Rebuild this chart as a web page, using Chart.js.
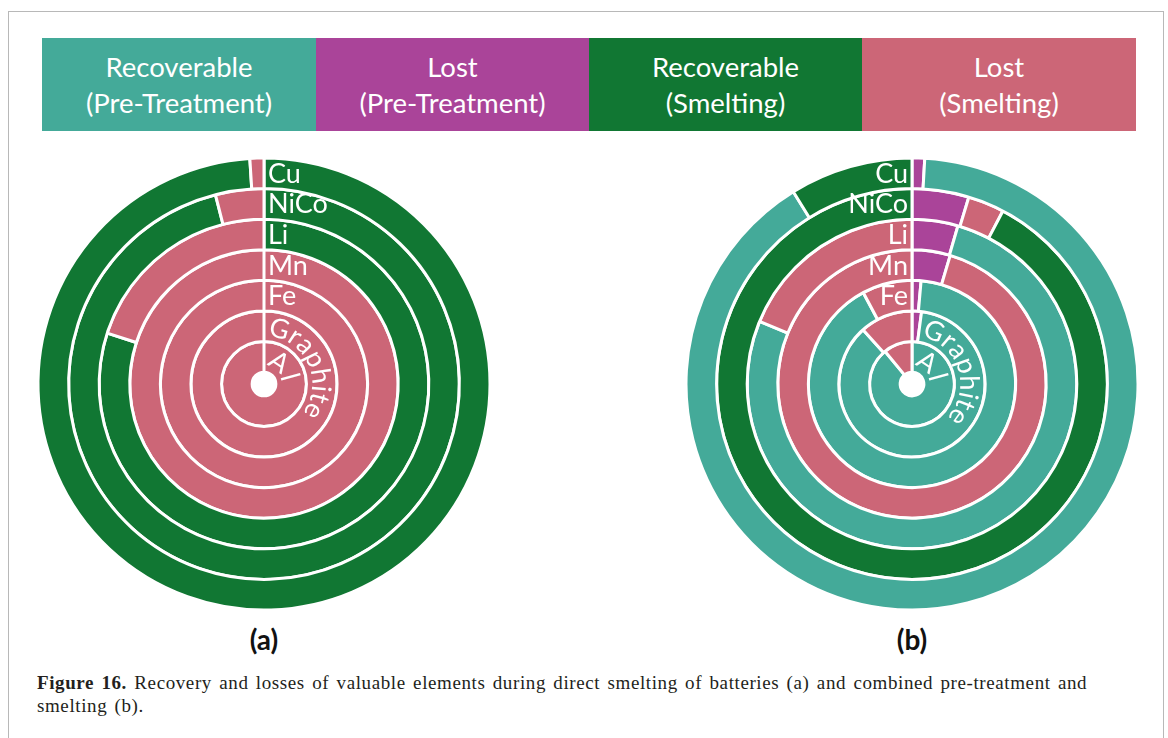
<!DOCTYPE html>
<html>
<head>
<meta charset="utf-8">
<script src="https://cdn.jsdelivr.net/npm/chart.js@4.4.0/dist/chart.umd.min.js"></script>
<style>
  body { margin: 0; width: 1168px; height: 738px; background: #fff; position: relative; overflow: hidden; }
  .frame { position: absolute; left: 8px; top: 11px; width: 1154px; height: 760px; border: 1px solid #b8b8b8; }
  .key { position: absolute; top: 38px; height: 93px; color: #fff; font-family: Lato, sans-serif; font-size: 27.5px;
         line-height: 36px; text-align: center; display: flex; align-items: center; justify-content: center; }
  canvas { position: absolute; top: 154px; }
  .tag { position: absolute; top: 622px; width: 100px; text-align: center; font-family: Lato, sans-serif;
         font-weight: bold; font-size: 28px; color: #111; }
  .caption { position: absolute; left: 37px; top: 671px; font-family: "Liberation Serif", serif; font-size: 19px;
             line-height: 23px; color: #231f20; letter-spacing: 0.6px; word-spacing: 2px; }
</style>
</head>
<body>
<div class="frame"></div>
<div id="keys"></div>
<canvas id="chartA" width="460" height="460" style="left:34px"></canvas>
<canvas id="chartB" width="460" height="460" style="left:682px"></canvas>
<div class="tag" style="left:214px">(a)</div>
<div class="tag" style="left:862px">(b)</div>
<div class="caption"><b>Figure 16.</b> Recovery and losses of valuable elements during direct smelting of batteries (a) and combined pre-treatment and<br>smelting (b).</div>
<script>
// rings, outer to inner
const rings = ["Cu", "NiCo", "Li", "Mn", "Fe", "Graphite", "Al"];
const categories = ["Recoverable\n(Pre-Treatment)", "Lost\n(Pre-Treatment)", "Recoverable\n(Smelting)", "Lost\n(Smelting)"];
const catColors = ["#44aa99", "#aa4499", "#117733", "#cc6677"];

// (a) direct smelting, % of each element
const smeltRecA = [99, 96, 80, 0, 0, 0, 0];
const smeltLostA = [1, 4, 20, 100, 100, 100, 100];

// (b) pre-treatment + smelting, % of each element
const ptLostB = [0.9, 4.7, 4.5, 4.6, 1.4, 2.1, 0];
const ptRecB = [90.3, 0, 76.7, 0, 90.8, 86.2, 89];
const smeltLostB = [0, 3.0, 18.8, 95.4, 7.8, 11.7, 11];
const smeltRecB = [8.8, 92.3, 0, 0, 0, 0, 0];

const curvedRings = ["Graphite", "Al"];
const labelFont = "27px Lato";
const capH = 19;

// legend boxes
const keyLeft = [42, 316, 589, 862, 1136];
const keys = document.getElementById("keys");
categories.forEach((c, i) => {
  const d = document.createElement("div");
  d.className = "key";
  d.style.left = keyLeft[i] + "px";
  d.style.width = (keyLeft[i + 1] - keyLeft[i]) + "px";
  d.style.background = catColors[i];
  d.innerHTML = c.replace("\n", "<br>");
  keys.appendChild(d);
});

const ringLabels = {
  id: "ringLabels",
  afterDatasetsDraw(chart, args, opts) {
    const ctx = chart.ctx;
    ctx.save();
    ctx.fillStyle = "#fff";
    ctx.font = labelFont;
    chart.data.datasets.forEach((ds, i) => {
      const arc = chart.getDatasetMeta(i).data[0];
      const { x, y, innerRadius, outerRadius } = arc.getProps(["x", "y", "innerRadius", "outerRadius"], true);
      const mid = (innerRadius + outerRadius) / 2;
      if (curvedRings.includes(ds.label)) {
        const r = mid - capH / 2;
        let a = opts.start[ds.label] * Math.PI / 180;
        ctx.textAlign = "center";
        for (const ch of ds.label) {
          const w = ctx.measureText(ch).width;
          ctx.save();
          ctx.translate(x, y);
          ctx.rotate(a + w / 2 / r);
          ctx.fillText(ch, 0, -r);
          ctx.restore();
          a += w / r;
        }
      } else {
        const left = opts.side === "left";
        ctx.textAlign = left ? "right" : "left";
        ctx.fillText(ds.label, x + (left ? -4 : 4), y - mid + capH / 2);
      }
    });
    ctx.restore();
  }
};

function ringChart(id, labels, colors, series, side, start) {
  return new Chart(document.getElementById(id), {
    type: "doughnut",
    data: {
      labels: labels,
      datasets: rings.map((name, i) => ({
        label: name,
        data: series.map(s => s[i]),
        backgroundColor: colors,
        borderColor: "#fff",
        borderWidth: 3
      }))
    },
    options: {
      responsive: false,
      animation: false,
      radius: 226,
      cutout: 12,
      plugins: {
        legend: { display: false },
        tooltip: { enabled: false },
        ringLabels: { side: side, start: start }
      }
    },
    plugins: [ringLabels]
  });
}

ringChart("chartA", ["Recoverable (Smelting)", "Lost (Smelting)"], [catColors[2], catColors[3]],
  [smeltRecA, smeltLostA], "right", { Graphite: 4, Al: 5 });

ringChart("chartB",
  ["Lost (Pre-Treatment)", "Recoverable (Pre-Treatment)", "Lost (Smelting)", "Recoverable (Smelting)"],
  [catColors[1], catColors[0], catColors[3], catColors[2]],
  [ptLostB, ptRecB, smeltLostB, smeltRecB], "left", { Graphite: 11, Al: 5 });
</script>
</body>
</html>
